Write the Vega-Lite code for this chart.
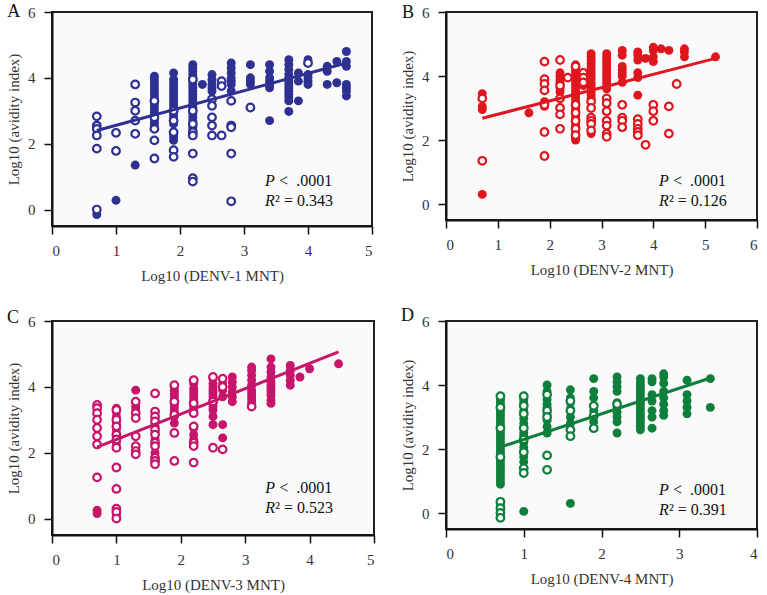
{
  "$schema": "https://vega.github.io/schema/vega-lite/v6.json",
  "padding": {"left": 5, "top": 2, "right": 5, "bottom": 2},
  "background": "#ffffff",
  "columns": 2,
  "spacing": {"row": 22, "column": 23},
  "config": {
    "font": "Liberation Serif",
    "view": {"stroke": "#222222", "strokeWidth": 2, "fill": "#fafafa"},
    "axis": {"grid": false, "labelFont": "Liberation Serif", "labelFontSize": 15, "labelColor": "#333333", "titleFont": "Liberation Serif", "titleFontSize": 15, "titleFontWeight": "normal", "titleColor": "#333333", "domainColor": "#111111", "domainWidth": 2, "tickColor": "#111111", "tickWidth": 1.5, "tickSize": 8, "format": "d"},
    "axisX": {"labelPadding": 9, "titlePadding": 10, "labelAngle": 0},
    "axisY": {"labelPadding": 9, "titlePadding": 6},
    "text": {"font": "Liberation Serif", "color": "#111111", "fontSize": 16, "align": "left", "baseline": "middle"}
  },
  "datasets": {
    "A": [
      {"x":0.7,"y":2.83,"k":"o"},{"x":0.7,"y":2.55,"k":"o"},{"x":0.7,"y":2.45,"k":"o"},{"x":0.7,"y":2.25,"k":"o"},{"x":0.7,"y":1.85,"k":"o"},{"x":0.7,"y":0.0,"k":"o"},{"x":0.7,"y":-0.15,"k":"f"},
      {"x":1.0,"y":2.33,"k":"o"},{"x":1.0,"y":1.78,"k":"o"},{"x":1.0,"y":0.28,"k":"f"},
      {"x":1.3,"y":3.8,"k":"o"},{"x":1.3,"y":3.25,"k":"o"},{"x":1.3,"y":3.0,"k":"o"},{"x":1.3,"y":2.7,"k":"o"},{"x":1.3,"y":2.3,"k":"o"},{"x":1.3,"y":1.35,"k":"f"},
      {"x":1.6,"y":4.05,"k":"f"},{"x":1.6,"y":3.95,"k":"f"},{"x":1.6,"y":3.85,"k":"f"},{"x":1.6,"y":3.75,"k":"f"},{"x":1.6,"y":3.65,"k":"f"},{"x":1.6,"y":3.55,"k":"f"},{"x":1.6,"y":3.45,"k":"f"},{"x":1.6,"y":3.35,"k":"f"},{"x":1.6,"y":3.25,"k":"f"},{"x":1.6,"y":3.15,"k":"f"},{"x":1.6,"y":3.05,"k":"f"},{"x":1.6,"y":2.95,"k":"f"},{"x":1.6,"y":2.85,"k":"f"},{"x":1.6,"y":2.75,"k":"f"},{"x":1.6,"y":2.65,"k":"f"},{"x":1.6,"y":2.55,"k":"f"},
      {"x":1.6,"y":3.3,"k":"o"},{"x":1.6,"y":2.8,"k":"o"},{"x":1.6,"y":2.45,"k":"o"},{"x":1.6,"y":2.1,"k":"o"},{"x":1.6,"y":1.55,"k":"o"},
      {"x":1.9,"y":4.15,"k":"f"},{"x":1.9,"y":3.95,"k":"f"},{"x":1.9,"y":3.85,"k":"f"},{"x":1.9,"y":3.75,"k":"f"},{"x":1.9,"y":3.65,"k":"f"},{"x":1.9,"y":3.55,"k":"f"},{"x":1.9,"y":3.45,"k":"f"},{"x":1.9,"y":3.35,"k":"f"},{"x":1.9,"y":3.25,"k":"f"},{"x":1.9,"y":3.15,"k":"f"},{"x":1.9,"y":3.05,"k":"f"},{"x":1.9,"y":2.95,"k":"f"},{"x":1.9,"y":2.85,"k":"f"},{"x":1.9,"y":2.75,"k":"f"},{"x":1.9,"y":2.6,"k":"f"},{"x":1.9,"y":2.3,"k":"f"},{"x":1.9,"y":2.2,"k":"f"},{"x":1.9,"y":2.1,"k":"f"},
      {"x":1.9,"y":3.0,"k":"o"},{"x":1.9,"y":2.7,"k":"o"},{"x":1.9,"y":2.35,"k":"o"},{"x":1.9,"y":1.8,"k":"o"},{"x":1.9,"y":1.6,"k":"o"},
      {"x":2.2,"y":4.4,"k":"f"},{"x":2.2,"y":4.3,"k":"f"},{"x":2.2,"y":4.2,"k":"f"},{"x":2.2,"y":4.1,"k":"f"},{"x":2.2,"y":4.0,"k":"f"},{"x":2.2,"y":3.9,"k":"f"},{"x":2.2,"y":3.8,"k":"f"},{"x":2.2,"y":3.7,"k":"f"},{"x":2.2,"y":3.6,"k":"f"},{"x":2.2,"y":3.5,"k":"f"},{"x":2.2,"y":3.4,"k":"f"},{"x":2.2,"y":3.3,"k":"f"},{"x":2.2,"y":3.2,"k":"f"},{"x":2.2,"y":3.1,"k":"f"},{"x":2.2,"y":3.0,"k":"f"},{"x":2.2,"y":2.9,"k":"f"},{"x":2.2,"y":2.8,"k":"f"},{"x":2.2,"y":2.7,"k":"f"},{"x":2.2,"y":2.6,"k":"f"},{"x":2.2,"y":2.5,"k":"f"},{"x":2.2,"y":2.4,"k":"f"},
      {"x":2.2,"y":3.95,"k":"o"},{"x":2.2,"y":3.0,"k":"o"},{"x":2.2,"y":2.6,"k":"o"},{"x":2.2,"y":2.35,"k":"o"},{"x":2.2,"y":2.25,"k":"o"},{"x":2.2,"y":1.7,"k":"o"},{"x":2.2,"y":0.95,"k":"o"},{"x":2.2,"y":0.85,"k":"o"},
      {"x":2.35,"y":3.8,"k":"f"},
      {"x":2.5,"y":4.1,"k":"f"},{"x":2.5,"y":3.95,"k":"f"},{"x":2.5,"y":3.8,"k":"f"},{"x":2.5,"y":3.7,"k":"f"},{"x":2.5,"y":3.6,"k":"f"},
      {"x":2.5,"y":3.35,"k":"o"},{"x":2.5,"y":3.15,"k":"o"},{"x":2.5,"y":2.8,"k":"o"},{"x":2.5,"y":2.55,"k":"o"},{"x":2.5,"y":2.25,"k":"o"},
      {"x":2.65,"y":3.9,"k":"o"},{"x":2.65,"y":3.75,"k":"o"},{"x":2.65,"y":2.25,"k":"o"},
      {"x":2.8,"y":4.45,"k":"f"},{"x":2.8,"y":4.3,"k":"f"},{"x":2.8,"y":4.15,"k":"f"},{"x":2.8,"y":4.0,"k":"f"},{"x":2.8,"y":3.9,"k":"f"},{"x":2.8,"y":3.8,"k":"f"},{"x":2.8,"y":3.6,"k":"f"},
      {"x":2.8,"y":3.3,"k":"o"},{"x":2.8,"y":2.55,"k":"o"},{"x":2.8,"y":2.5,"k":"o"},{"x":2.8,"y":1.7,"k":"o"},{"x":2.8,"y":0.25,"k":"o"},
      {"x":3.1,"y":4.4,"k":"f"},{"x":3.1,"y":4.0,"k":"f"},{"x":3.1,"y":3.9,"k":"f"},{"x":3.1,"y":3.8,"k":"f"},{"x":3.1,"y":3.1,"k":"o"},
      {"x":3.4,"y":4.4,"k":"f"},{"x":3.4,"y":4.2,"k":"f"},{"x":3.4,"y":4.0,"k":"f"},{"x":3.4,"y":3.9,"k":"f"},{"x":3.4,"y":3.8,"k":"f"},{"x":3.4,"y":3.7,"k":"f"},{"x":3.4,"y":2.7,"k":"f"},
      {"x":3.7,"y":4.55,"k":"f"},{"x":3.7,"y":4.4,"k":"f"},{"x":3.7,"y":4.25,"k":"f"},{"x":3.7,"y":4.1,"k":"f"},{"x":3.7,"y":4.0,"k":"f"},{"x":3.7,"y":3.9,"k":"f"},{"x":3.7,"y":3.8,"k":"f"},{"x":3.7,"y":3.7,"k":"f"},{"x":3.7,"y":3.6,"k":"f"},{"x":3.7,"y":3.5,"k":"f"},{"x":3.7,"y":3.4,"k":"f"},{"x":3.7,"y":3.3,"k":"f"},{"x":3.7,"y":2.98,"k":"f"},
      {"x":3.85,"y":4.15,"k":"f"},{"x":3.85,"y":3.9,"k":"f"},{"x":3.85,"y":3.3,"k":"f"},
      {"x":4.0,"y":4.55,"k":"f"},{"x":4.0,"y":4.1,"k":"f"},{"x":4.0,"y":4.0,"k":"f"},{"x":4.0,"y":3.9,"k":"f"},{"x":4.0,"y":3.8,"k":"f"},{"x":4.0,"y":4.45,"k":"o"},
      {"x":4.3,"y":4.35,"k":"f"},{"x":4.3,"y":4.2,"k":"f"},{"x":4.3,"y":3.8,"k":"f"},
      {"x":4.45,"y":4.5,"k":"f"},{"x":4.45,"y":3.85,"k":"f"},
      {"x":4.6,"y":4.8,"k":"f"},{"x":4.6,"y":4.5,"k":"f"},{"x":4.6,"y":4.35,"k":"f"},{"x":4.6,"y":3.8,"k":"f"},{"x":4.6,"y":3.7,"k":"f"},{"x":4.6,"y":3.6,"k":"f"},{"x":4.6,"y":3.45,"k":"f"}
    ],
    "B": [
      {"x":0.7,"y":3.45,"k":"f"},{"x":0.7,"y":3.05,"k":"f"},{"x":0.7,"y":2.95,"k":"f"},{"x":0.7,"y":0.3,"k":"f"},{"x":0.7,"y":3.3,"k":"o"},{"x":0.7,"y":1.35,"k":"o"},
      {"x":1.6,"y":2.85,"k":"f"},
      {"x":1.9,"y":4.45,"k":"o"},{"x":1.9,"y":3.9,"k":"o"},{"x":1.9,"y":3.75,"k":"o"},{"x":1.9,"y":3.55,"k":"o"},{"x":1.9,"y":3.1,"k":"o"},{"x":1.9,"y":2.25,"k":"o"},{"x":1.9,"y":1.5,"k":"o"},{"x":1.9,"y":3.2,"k":"f"},{"x":1.9,"y":3.05,"k":"f"},
      {"x":2.2,"y":4.1,"k":"f"},{"x":2.2,"y":4.0,"k":"f"},{"x":2.2,"y":3.9,"k":"f"},{"x":2.2,"y":3.8,"k":"f"},{"x":2.2,"y":3.6,"k":"f"},{"x":2.2,"y":3.5,"k":"f"},
      {"x":2.2,"y":4.5,"k":"o"},{"x":2.2,"y":3.7,"k":"o"},{"x":2.2,"y":3.3,"k":"o"},{"x":2.2,"y":3.0,"k":"o"},{"x":2.2,"y":2.8,"k":"o"},{"x":2.2,"y":2.35,"k":"o"},
      {"x":2.35,"y":3.95,"k":"o"},
      {"x":2.5,"y":4.35,"k":"f"},{"x":2.5,"y":4.25,"k":"f"},{"x":2.5,"y":4.15,"k":"f"},{"x":2.5,"y":4.05,"k":"f"},{"x":2.5,"y":3.95,"k":"f"},{"x":2.5,"y":3.85,"k":"f"},{"x":2.5,"y":3.75,"k":"f"},{"x":2.5,"y":3.65,"k":"f"},{"x":2.5,"y":3.55,"k":"f"},{"x":2.5,"y":3.45,"k":"f"},{"x":2.5,"y":3.35,"k":"f"},{"x":2.5,"y":3.25,"k":"f"},{"x":2.5,"y":3.15,"k":"f"},{"x":2.5,"y":3.05,"k":"f"},{"x":2.5,"y":2.95,"k":"f"},{"x":2.5,"y":2.85,"k":"f"},{"x":2.5,"y":2.75,"k":"f"},{"x":2.5,"y":2.65,"k":"f"},{"x":2.5,"y":2.55,"k":"f"},{"x":2.5,"y":2.45,"k":"f"},{"x":2.5,"y":2.35,"k":"f"},{"x":2.5,"y":2.25,"k":"f"},{"x":2.5,"y":2.15,"k":"f"},{"x":2.5,"y":2.05,"k":"f"},{"x":2.5,"y":2.0,"k":"f"},
      {"x":2.5,"y":4.3,"k":"o"},{"x":2.5,"y":3.1,"k":"o"},{"x":2.5,"y":2.85,"k":"o"},{"x":2.5,"y":2.6,"k":"o"},{"x":2.5,"y":2.35,"k":"o"},{"x":2.5,"y":2.15,"k":"o"},
      {"x":2.65,"y":4.1,"k":"f"},{"x":2.65,"y":3.9,"k":"f"},{"x":2.65,"y":3.7,"k":"f"},{"x":2.65,"y":4.1,"k":"o"},{"x":2.65,"y":3.95,"k":"o"},{"x":2.65,"y":3.8,"k":"o"},
      {"x":2.8,"y":4.7,"k":"f"},{"x":2.8,"y":4.6,"k":"f"},{"x":2.8,"y":4.5,"k":"f"},{"x":2.8,"y":4.4,"k":"f"},{"x":2.8,"y":4.3,"k":"f"},{"x":2.8,"y":4.2,"k":"f"},{"x":2.8,"y":4.1,"k":"f"},{"x":2.8,"y":4.0,"k":"f"},{"x":2.8,"y":3.9,"k":"f"},{"x":2.8,"y":3.8,"k":"f"},{"x":2.8,"y":3.7,"k":"f"},{"x":2.8,"y":3.6,"k":"f"},{"x":2.8,"y":3.5,"k":"f"},{"x":2.8,"y":3.4,"k":"f"},{"x":2.8,"y":3.3,"k":"f"},{"x":2.8,"y":2.2,"k":"f"},
      {"x":2.8,"y":3.2,"k":"o"},{"x":2.8,"y":3.0,"k":"o"},{"x":2.8,"y":2.7,"k":"o"},{"x":2.8,"y":2.6,"k":"o"},{"x":2.8,"y":2.5,"k":"o"},{"x":2.8,"y":2.3,"k":"o"},
      {"x":3.1,"y":4.7,"k":"f"},{"x":3.1,"y":4.6,"k":"f"},{"x":3.1,"y":4.5,"k":"f"},{"x":3.1,"y":4.4,"k":"f"},{"x":3.1,"y":4.3,"k":"f"},{"x":3.1,"y":4.2,"k":"f"},{"x":3.1,"y":4.1,"k":"f"},{"x":3.1,"y":4.0,"k":"f"},{"x":3.1,"y":3.9,"k":"f"},{"x":3.1,"y":3.8,"k":"f"},{"x":3.1,"y":3.7,"k":"f"},{"x":3.1,"y":3.6,"k":"f"},
      {"x":3.1,"y":3.3,"k":"o"},{"x":3.1,"y":3.15,"k":"o"},{"x":3.1,"y":2.9,"k":"o"},{"x":3.1,"y":2.6,"k":"o"},{"x":3.1,"y":2.45,"k":"o"},{"x":3.1,"y":2.2,"k":"o"},{"x":3.1,"y":2.1,"k":"o"},
      {"x":3.4,"y":4.8,"k":"f"},{"x":3.4,"y":4.65,"k":"f"},{"x":3.4,"y":4.3,"k":"f"},{"x":3.4,"y":4.2,"k":"f"},{"x":3.4,"y":4.1,"k":"f"},{"x":3.4,"y":4.0,"k":"f"},{"x":3.4,"y":3.8,"k":"f"},
      {"x":3.4,"y":3.1,"k":"o"},{"x":3.4,"y":2.7,"k":"o"},{"x":3.4,"y":2.6,"k":"o"},{"x":3.4,"y":2.4,"k":"o"},
      {"x":3.7,"y":4.75,"k":"f"},{"x":3.7,"y":4.65,"k":"f"},{"x":3.7,"y":4.5,"k":"f"},{"x":3.7,"y":4.1,"k":"f"},{"x":3.7,"y":3.95,"k":"f"},{"x":3.7,"y":3.4,"k":"f"},
      {"x":3.7,"y":2.65,"k":"o"},{"x":3.7,"y":2.5,"k":"o"},{"x":3.7,"y":2.35,"k":"o"},{"x":3.7,"y":2.25,"k":"o"},{"x":3.7,"y":2.15,"k":"o"},
      {"x":3.85,"y":4.55,"k":"f"},{"x":3.85,"y":1.85,"k":"o"},
      {"x":4.0,"y":4.9,"k":"f"},{"x":4.0,"y":4.8,"k":"f"},{"x":4.0,"y":4.6,"k":"f"},{"x":4.0,"y":4.45,"k":"f"},{"x":4.0,"y":3.1,"k":"o"},{"x":4.0,"y":2.9,"k":"o"},{"x":4.0,"y":2.6,"k":"o"},
      {"x":4.15,"y":4.85,"k":"f"},
      {"x":4.3,"y":4.8,"k":"f"},{"x":4.3,"y":3.05,"k":"o"},{"x":4.3,"y":2.2,"k":"o"},
      {"x":4.45,"y":3.75,"k":"o"},
      {"x":4.6,"y":4.85,"k":"f"},{"x":4.6,"y":4.75,"k":"f"},{"x":4.6,"y":4.6,"k":"f"},
      {"x":5.2,"y":4.6,"k":"f"}
    ],
    "C": [
      {"x":0.7,"y":3.45,"k":"o"},{"x":0.7,"y":3.35,"k":"o"},{"x":0.7,"y":3.2,"k":"o"},{"x":0.7,"y":3.0,"k":"o"},{"x":0.7,"y":2.75,"k":"o"},{"x":0.7,"y":2.5,"k":"o"},{"x":0.7,"y":2.25,"k":"o"},{"x":0.7,"y":1.25,"k":"o"},{"x":0.7,"y":0.25,"k":"f"},{"x":0.7,"y":0.15,"k":"f"},
      {"x":1.0,"y":3.35,"k":"f"},{"x":1.0,"y":3.25,"k":"f"},{"x":1.0,"y":3.1,"k":"f"},{"x":1.0,"y":2.9,"k":"f"},{"x":1.0,"y":2.7,"k":"f"},{"x":1.0,"y":2.5,"k":"f"},{"x":1.0,"y":2.3,"k":"f"},{"x":1.0,"y":0.1,"k":"f"},
      {"x":1.0,"y":3.3,"k":"o"},{"x":1.0,"y":3.0,"k":"o"},{"x":1.0,"y":2.8,"k":"o"},{"x":1.0,"y":2.55,"k":"o"},{"x":1.0,"y":2.4,"k":"o"},{"x":1.0,"y":2.15,"k":"o"},{"x":1.0,"y":1.55,"k":"o"},{"x":1.0,"y":0.9,"k":"o"},{"x":1.0,"y":0.3,"k":"o"},{"x":1.0,"y":0.2,"k":"o"},{"x":1.0,"y":0.0,"k":"o"},
      {"x":1.3,"y":3.9,"k":"f"},{"x":1.3,"y":3.4,"k":"f"},{"x":1.3,"y":3.3,"k":"f"},
      {"x":1.3,"y":3.55,"k":"o"},{"x":1.3,"y":3.2,"k":"o"},{"x":1.3,"y":3.05,"k":"o"},{"x":1.3,"y":2.5,"k":"o"},{"x":1.3,"y":2.2,"k":"o"},{"x":1.3,"y":2.05,"k":"o"},{"x":1.3,"y":1.95,"k":"o"},
      {"x":1.6,"y":3.0,"k":"f"},{"x":1.6,"y":2.8,"k":"f"},{"x":1.6,"y":2.6,"k":"f"},{"x":1.6,"y":2.4,"k":"f"},{"x":1.6,"y":2.0,"k":"f"},
      {"x":1.6,"y":3.8,"k":"o"},{"x":1.6,"y":3.25,"k":"o"},{"x":1.6,"y":3.1,"k":"o"},{"x":1.6,"y":2.95,"k":"o"},{"x":1.6,"y":2.7,"k":"o"},{"x":1.6,"y":2.55,"k":"o"},{"x":1.6,"y":2.3,"k":"o"},{"x":1.6,"y":2.2,"k":"o"},{"x":1.6,"y":1.85,"k":"o"},{"x":1.6,"y":1.75,"k":"o"},{"x":1.6,"y":1.65,"k":"o"},
      {"x":1.9,"y":4.0,"k":"f"},{"x":1.9,"y":3.9,"k":"f"},{"x":1.9,"y":3.8,"k":"f"},{"x":1.9,"y":3.7,"k":"f"},{"x":1.9,"y":3.6,"k":"f"},{"x":1.9,"y":3.5,"k":"f"},{"x":1.9,"y":3.4,"k":"f"},{"x":1.9,"y":3.3,"k":"f"},{"x":1.9,"y":3.2,"k":"f"},{"x":1.9,"y":3.1,"k":"f"},{"x":1.9,"y":2.9,"k":"f"},
      {"x":1.9,"y":4.05,"k":"o"},{"x":1.9,"y":3.55,"k":"o"},{"x":1.9,"y":3.15,"k":"o"},{"x":1.9,"y":2.6,"k":"o"},{"x":1.9,"y":1.75,"k":"o"},
      {"x":2.2,"y":4.2,"k":"f"},{"x":2.2,"y":4.1,"k":"f"},{"x":2.2,"y":3.95,"k":"f"},{"x":2.2,"y":3.85,"k":"f"},{"x":2.2,"y":3.75,"k":"f"},{"x":2.2,"y":3.65,"k":"f"},{"x":2.2,"y":3.55,"k":"f"},{"x":2.2,"y":3.45,"k":"f"},{"x":2.2,"y":3.35,"k":"f"},{"x":2.2,"y":3.25,"k":"f"},{"x":2.2,"y":2.75,"k":"f"},{"x":2.2,"y":2.55,"k":"f"},{"x":2.2,"y":2.4,"k":"f"},{"x":2.2,"y":2.3,"k":"f"},
      {"x":2.2,"y":4.2,"k":"o"},{"x":2.2,"y":3.5,"k":"o"},{"x":2.2,"y":3.2,"k":"o"},{"x":2.2,"y":2.8,"k":"o"},{"x":2.2,"y":2.3,"k":"o"},{"x":2.2,"y":2.2,"k":"o"},{"x":2.2,"y":1.7,"k":"o"},
      {"x":2.5,"y":4.25,"k":"f"},{"x":2.5,"y":4.1,"k":"f"},{"x":2.5,"y":4.0,"k":"f"},{"x":2.5,"y":3.9,"k":"f"},{"x":2.5,"y":3.8,"k":"f"},{"x":2.5,"y":3.7,"k":"f"},{"x":2.5,"y":3.6,"k":"f"},{"x":2.5,"y":3.5,"k":"f"},{"x":2.5,"y":3.4,"k":"f"},{"x":2.5,"y":3.3,"k":"f"},{"x":2.5,"y":3.1,"k":"f"},{"x":2.5,"y":2.85,"k":"f"},
      {"x":2.5,"y":4.3,"k":"o"},{"x":2.5,"y":3.55,"k":"o"},{"x":2.5,"y":2.15,"k":"o"},
      {"x":2.65,"y":4.1,"k":"f"},{"x":2.65,"y":3.9,"k":"f"},{"x":2.65,"y":3.7,"k":"f"},{"x":2.65,"y":2.85,"k":"f"},{"x":2.65,"y":2.45,"k":"f"},
      {"x":2.65,"y":4.25,"k":"o"},{"x":2.65,"y":4.0,"k":"o"},{"x":2.65,"y":2.1,"k":"o"},
      {"x":2.8,"y":4.3,"k":"f"},{"x":2.8,"y":4.15,"k":"f"},{"x":2.8,"y":4.0,"k":"f"},{"x":2.8,"y":3.85,"k":"f"},{"x":2.8,"y":3.7,"k":"f"},{"x":2.8,"y":3.55,"k":"f"},
      {"x":3.1,"y":4.6,"k":"f"},{"x":3.1,"y":4.5,"k":"f"},{"x":3.1,"y":4.35,"k":"f"},{"x":3.1,"y":4.2,"k":"f"},{"x":3.1,"y":4.05,"k":"f"},{"x":3.1,"y":3.9,"k":"f"},{"x":3.1,"y":3.8,"k":"f"},{"x":3.1,"y":3.7,"k":"f"},{"x":3.1,"y":3.6,"k":"f"},{"x":3.1,"y":3.5,"k":"f"},{"x":3.1,"y":3.4,"k":"o"},
      {"x":3.4,"y":4.85,"k":"f"},{"x":3.4,"y":4.6,"k":"f"},{"x":3.4,"y":4.45,"k":"f"},{"x":3.4,"y":4.3,"k":"f"},{"x":3.4,"y":4.15,"k":"f"},{"x":3.4,"y":4.05,"k":"f"},{"x":3.4,"y":3.95,"k":"f"},{"x":3.4,"y":3.85,"k":"f"},{"x":3.4,"y":3.75,"k":"f"},{"x":3.4,"y":3.6,"k":"f"},{"x":3.4,"y":3.5,"k":"f"},
      {"x":3.7,"y":4.65,"k":"f"},{"x":3.7,"y":4.5,"k":"f"},{"x":3.7,"y":4.35,"k":"f"},{"x":3.7,"y":4.2,"k":"f"},{"x":3.7,"y":4.05,"k":"f"},
      {"x":3.85,"y":4.3,"k":"f"},{"x":4.0,"y":4.55,"k":"f"},{"x":4.45,"y":4.7,"k":"f"}
    ],
    "D": [
      {"x":0.7,"y":3.55,"k":"f"},{"x":0.7,"y":3.45,"k":"f"},{"x":0.7,"y":3.35,"k":"f"},{"x":0.7,"y":3.25,"k":"f"},{"x":0.7,"y":3.15,"k":"f"},{"x":0.7,"y":3.05,"k":"f"},{"x":0.7,"y":2.95,"k":"f"},{"x":0.7,"y":2.85,"k":"f"},{"x":0.7,"y":2.75,"k":"f"},{"x":0.7,"y":2.6,"k":"f"},{"x":0.7,"y":2.5,"k":"f"},{"x":0.7,"y":2.4,"k":"f"},{"x":0.7,"y":2.3,"k":"f"},{"x":0.7,"y":2.2,"k":"f"},{"x":0.7,"y":2.1,"k":"f"},{"x":0.7,"y":2.0,"k":"f"},{"x":0.7,"y":1.9,"k":"f"},{"x":0.7,"y":1.8,"k":"f"},{"x":0.7,"y":1.7,"k":"f"},{"x":0.7,"y":1.6,"k":"f"},{"x":0.7,"y":1.5,"k":"f"},{"x":0.7,"y":1.4,"k":"f"},{"x":0.7,"y":1.3,"k":"f"},{"x":0.7,"y":1.2,"k":"f"},{"x":0.7,"y":1.1,"k":"f"},{"x":0.7,"y":1.0,"k":"f"},{"x":0.7,"y":0.9,"k":"f"},{"x":0.7,"y":0.3,"k":"f"},{"x":0.7,"y":0.2,"k":"f"},
      {"x":0.7,"y":3.65,"k":"o"},{"x":0.7,"y":3.3,"k":"o"},{"x":0.7,"y":2.65,"k":"o"},{"x":0.7,"y":1.75,"k":"o"},{"x":0.7,"y":0.35,"k":"o"},{"x":0.7,"y":0.15,"k":"o"},{"x":0.7,"y":0.0,"k":"o"},{"x":0.7,"y":-0.15,"k":"o"},
      {"x":1.0,"y":3.55,"k":"f"},{"x":1.0,"y":3.45,"k":"f"},{"x":1.0,"y":3.2,"k":"f"},{"x":1.0,"y":2.95,"k":"f"},{"x":1.0,"y":2.8,"k":"f"},{"x":1.0,"y":2.5,"k":"f"},{"x":1.0,"y":2.4,"k":"f"},{"x":1.0,"y":2.2,"k":"f"},{"x":1.0,"y":2.05,"k":"f"},{"x":1.0,"y":1.75,"k":"f"},{"x":1.0,"y":1.6,"k":"f"},{"x":1.0,"y":0.05,"k":"f"},
      {"x":1.0,"y":3.65,"k":"o"},{"x":1.0,"y":3.35,"k":"o"},{"x":1.0,"y":3.1,"k":"o"},{"x":1.0,"y":2.65,"k":"o"},{"x":1.0,"y":2.3,"k":"o"},{"x":1.0,"y":1.9,"k":"o"},{"x":1.0,"y":1.4,"k":"o"},{"x":1.0,"y":1.25,"k":"o"},
      {"x":1.3,"y":4.0,"k":"f"},{"x":1.3,"y":3.8,"k":"f"},{"x":1.3,"y":3.55,"k":"f"},{"x":1.3,"y":3.4,"k":"f"},{"x":1.3,"y":3.3,"k":"f"},{"x":1.3,"y":3.1,"k":"f"},{"x":1.3,"y":2.9,"k":"f"},{"x":1.3,"y":2.7,"k":"f"},{"x":1.3,"y":2.5,"k":"f"},
      {"x":1.3,"y":3.7,"k":"o"},{"x":1.3,"y":3.2,"k":"o"},{"x":1.3,"y":3.0,"k":"o"},{"x":1.3,"y":1.8,"k":"o"},{"x":1.3,"y":1.35,"k":"o"},
      {"x":1.6,"y":3.85,"k":"f"},{"x":1.6,"y":3.6,"k":"f"},{"x":1.6,"y":3.45,"k":"f"},{"x":1.6,"y":3.25,"k":"f"},{"x":1.6,"y":3.0,"k":"f"},{"x":1.6,"y":2.8,"k":"f"},{"x":1.6,"y":0.3,"k":"f"},
      {"x":1.6,"y":3.5,"k":"o"},{"x":1.6,"y":3.2,"k":"o"},{"x":1.6,"y":2.6,"k":"o"},{"x":1.6,"y":2.4,"k":"o"},
      {"x":1.9,"y":4.2,"k":"f"},{"x":1.9,"y":3.8,"k":"f"},{"x":1.9,"y":3.6,"k":"f"},{"x":1.9,"y":3.2,"k":"f"},{"x":1.9,"y":3.0,"k":"f"},{"x":1.9,"y":2.85,"k":"f"},
      {"x":1.9,"y":3.35,"k":"o"},{"x":1.9,"y":3.05,"k":"o"},{"x":1.9,"y":2.65,"k":"o"},
      {"x":2.2,"y":4.25,"k":"f"},{"x":2.2,"y":4.1,"k":"f"},{"x":2.2,"y":3.95,"k":"f"},{"x":2.2,"y":3.8,"k":"f"},{"x":2.2,"y":3.45,"k":"f"},{"x":2.2,"y":3.3,"k":"f"},{"x":2.2,"y":3.15,"k":"f"},{"x":2.2,"y":3.0,"k":"f"},{"x":2.2,"y":2.85,"k":"f"},{"x":2.2,"y":2.5,"k":"f"},{"x":2.2,"y":3.4,"k":"o"},
      {"x":2.5,"y":4.2,"k":"f"},{"x":2.5,"y":4.1,"k":"f"},{"x":2.5,"y":4.0,"k":"f"},{"x":2.5,"y":3.9,"k":"f"},{"x":2.5,"y":3.8,"k":"f"},{"x":2.5,"y":3.7,"k":"f"},{"x":2.5,"y":3.6,"k":"f"},{"x":2.5,"y":3.5,"k":"f"},{"x":2.5,"y":3.4,"k":"f"},{"x":2.5,"y":3.3,"k":"f"},{"x":2.5,"y":3.2,"k":"f"},{"x":2.5,"y":3.1,"k":"f"},{"x":2.5,"y":3.0,"k":"f"},{"x":2.5,"y":2.9,"k":"f"},{"x":2.5,"y":2.8,"k":"f"},{"x":2.5,"y":2.7,"k":"f"},{"x":2.5,"y":2.6,"k":"f"},
      {"x":2.65,"y":4.2,"k":"f"},{"x":2.65,"y":4.1,"k":"f"},{"x":2.65,"y":3.7,"k":"f"},{"x":2.65,"y":3.5,"k":"f"},{"x":2.65,"y":3.2,"k":"f"},{"x":2.65,"y":3.0,"k":"f"},{"x":2.65,"y":2.65,"k":"f"},
      {"x":2.8,"y":4.35,"k":"f"},{"x":2.8,"y":4.25,"k":"f"},{"x":2.8,"y":4.05,"k":"f"},{"x":2.8,"y":3.8,"k":"f"},{"x":2.8,"y":3.6,"k":"f"},{"x":2.8,"y":3.4,"k":"f"},{"x":2.8,"y":3.2,"k":"f"},{"x":2.8,"y":3.05,"k":"f"},
      {"x":3.1,"y":4.15,"k":"f"},{"x":3.1,"y":3.7,"k":"f"},{"x":3.1,"y":3.5,"k":"f"},{"x":3.1,"y":3.3,"k":"f"},{"x":3.1,"y":3.1,"k":"f"},
      {"x":3.4,"y":4.2,"k":"f"},{"x":3.4,"y":3.3,"k":"f"}
    ],
    "LA": [{"x":0.7,"y":2.4},{"x":4.6,"y":4.45}],
    "LB": [{"x":0.7,"y":2.68},{"x":5.2,"y":4.55}],
    "LC": [{"x":0.7,"y":2.17},{"x":4.45,"y":5.06}],
    "LD": [{"x":0.7,"y":2.06},{"x":3.4,"y":4.22}],
    "one": [{"n": 1}]
  },
  "concat": [
    {
      "width": 320, "height": 214,
      "layer": [
        {"data": {"name": "A"}, "transform": [{"filter": "datum.k == 'f'"}],
         "mark": {"type": "point", "shape": "circle", "filled": true, "size": 80, "color": "#2e3192", "opacity": 1},
         "encoding": {
           "x": {"field": "x", "type": "quantitative", "scale": {"domain": [0, 5]}, "axis": {"values": [0,1,2,3,4,5], "title": "Log10 (DENV-1 MNT)"}},
           "y": {"field": "y", "type": "quantitative", "scale": {"domain": [-0.5, 6]}, "axis": {"values": [0,2,4,6], "title": "Log10 (avidity index)"}}}},
        {"data": {"name": "A"}, "transform": [{"filter": "datum.k == 'o'"}],
         "mark": {"type": "point", "shape": "circle", "filled": false, "fill": "#ffffff", "fillOpacity": 1, "stroke": "#2e3192", "strokeWidth": 2.2, "size": 58, "opacity": 1},
         "encoding": {"x": {"field": "x", "type": "quantitative"}, "y": {"field": "y", "type": "quantitative"}}},
        {"data": {"name": "LA"}, "mark": {"type": "line", "color": "#2e3192", "strokeWidth": 3},
         "encoding": {"x": {"field": "x", "type": "quantitative"}, "y": {"field": "y", "type": "quantitative"}}},
        {"data": {"name": "one"}, "mark": {"type": "text", "text": "A", "fontSize": 18},
         "encoding": {"x": {"datum": -0.7, "type": "quantitative"}, "y": {"datum": 6.0, "type": "quantitative"}}},
        {"data": {"name": "one"}, "mark": {"type": "text", "text": "P", "fontStyle": "italic"},
         "encoding": {"x": {"datum": 3.33, "type": "quantitative"}, "y": {"datum": 0.88, "type": "quantitative"}}},
        {"data": {"name": "one"}, "mark": {"type": "text", "text": "<\u00a0\u00a0.0001", "dx": 14},
         "encoding": {"x": {"datum": 3.33, "type": "quantitative"}, "y": {"datum": 0.88, "type": "quantitative"}}},
        {"data": {"name": "one"}, "mark": {"type": "text", "text": "R", "fontStyle": "italic"},
         "encoding": {"x": {"datum": 3.33, "type": "quantitative"}, "y": {"datum": 0.27, "type": "quantitative"}}},
        {"data": {"name": "one"}, "mark": {"type": "text", "text": "² = 0.343", "dx": 10},
         "encoding": {"x": {"datum": 3.33, "type": "quantitative"}, "y": {"datum": 0.27, "type": "quantitative"}}}
      ]
    },
    {
      "width": 311, "height": 208,
      "layer": [
        {"data": {"name": "B"}, "transform": [{"filter": "datum.k == 'f'"}],
         "mark": {"type": "point", "shape": "circle", "filled": true, "size": 80, "color": "#e0161f", "opacity": 1},
         "encoding": {
           "x": {"field": "x", "type": "quantitative", "scale": {"domain": [0, 6]}, "axis": {"values": [0,1,2,3,4,5,6], "title": "Log10 (DENV-2 MNT)"}},
           "y": {"field": "y", "type": "quantitative", "scale": {"domain": [-0.5, 6]}, "axis": {"values": [0,2,4,6], "title": "Log10 (avidity index)"}}}},
        {"data": {"name": "B"}, "transform": [{"filter": "datum.k == 'o'"}],
         "mark": {"type": "point", "shape": "circle", "filled": false, "fill": "#ffffff", "fillOpacity": 1, "stroke": "#e0161f", "strokeWidth": 2.2, "size": 58, "opacity": 1},
         "encoding": {"x": {"field": "x", "type": "quantitative"}, "y": {"field": "y", "type": "quantitative"}}},
        {"data": {"name": "LB"}, "mark": {"type": "line", "color": "#e0161f", "strokeWidth": 3},
         "encoding": {"x": {"field": "x", "type": "quantitative"}, "y": {"field": "y", "type": "quantitative"}}},
        {"data": {"name": "one"}, "mark": {"type": "text", "text": "B", "fontSize": 18},
         "encoding": {"x": {"datum": -0.85, "type": "quantitative"}, "y": {"datum": 5.97, "type": "quantitative"}}},
        {"data": {"name": "one"}, "mark": {"type": "text", "text": "P", "fontStyle": "italic"},
         "encoding": {"x": {"datum": 4.11, "type": "quantitative"}, "y": {"datum": 0.72, "type": "quantitative"}}},
        {"data": {"name": "one"}, "mark": {"type": "text", "text": "<\u00a0\u00a0.0001", "dx": 14},
         "encoding": {"x": {"datum": 4.11, "type": "quantitative"}, "y": {"datum": 0.72, "type": "quantitative"}}},
        {"data": {"name": "one"}, "mark": {"type": "text", "text": "R", "fontStyle": "italic"},
         "encoding": {"x": {"datum": 4.11, "type": "quantitative"}, "y": {"datum": 0.1, "type": "quantitative"}}},
        {"data": {"name": "one"}, "mark": {"type": "text", "text": "² = 0.126", "dx": 10},
         "encoding": {"x": {"datum": 4.11, "type": "quantitative"}, "y": {"datum": 0.1, "type": "quantitative"}}}
      ]
    },
    {
      "width": 322, "height": 214,
      "layer": [
        {"data": {"name": "C"}, "transform": [{"filter": "datum.k == 'f'"}],
         "mark": {"type": "point", "shape": "circle", "filled": true, "size": 80, "color": "#c6156a", "opacity": 1},
         "encoding": {
           "x": {"field": "x", "type": "quantitative", "scale": {"domain": [0, 5]}, "axis": {"values": [0,1,2,3,4,5], "title": "Log10 (DENV-3 MNT)"}},
           "y": {"field": "y", "type": "quantitative", "scale": {"domain": [-0.5, 6]}, "axis": {"values": [0,2,4,6], "title": "Log10 (avidity index)"}}}},
        {"data": {"name": "C"}, "transform": [{"filter": "datum.k == 'o'"}],
         "mark": {"type": "point", "shape": "circle", "filled": false, "fill": "#ffffff", "fillOpacity": 1, "stroke": "#c6156a", "strokeWidth": 2.2, "size": 58, "opacity": 1},
         "encoding": {"x": {"field": "x", "type": "quantitative"}, "y": {"field": "y", "type": "quantitative"}}},
        {"data": {"name": "LC"}, "mark": {"type": "line", "color": "#c6156a", "strokeWidth": 3},
         "encoding": {"x": {"field": "x", "type": "quantitative"}, "y": {"field": "y", "type": "quantitative"}}},
        {"data": {"name": "one"}, "mark": {"type": "text", "text": "C", "fontSize": 18},
         "encoding": {"x": {"datum": -0.7, "type": "quantitative"}, "y": {"datum": 6.1, "type": "quantitative"}}},
        {"data": {"name": "one"}, "mark": {"type": "text", "text": "P", "fontStyle": "italic"},
         "encoding": {"x": {"datum": 3.31, "type": "quantitative"}, "y": {"datum": 0.93, "type": "quantitative"}}},
        {"data": {"name": "one"}, "mark": {"type": "text", "text": "<\u00a0\u00a0.0001", "dx": 14},
         "encoding": {"x": {"datum": 3.31, "type": "quantitative"}, "y": {"datum": 0.93, "type": "quantitative"}}},
        {"data": {"name": "one"}, "mark": {"type": "text", "text": "R", "fontStyle": "italic"},
         "encoding": {"x": {"datum": 3.31, "type": "quantitative"}, "y": {"datum": 0.33, "type": "quantitative"}}},
        {"data": {"name": "one"}, "mark": {"type": "text", "text": "² = 0.523", "dx": 10},
         "encoding": {"x": {"datum": 3.31, "type": "quantitative"}, "y": {"datum": 0.33, "type": "quantitative"}}}
      ]
    },
    {
      "width": 311, "height": 208,
      "layer": [
        {"data": {"name": "D"}, "transform": [{"filter": "datum.k == 'f'"}],
         "mark": {"type": "point", "shape": "circle", "filled": true, "size": 80, "color": "#0f7f3c", "opacity": 1},
         "encoding": {
           "x": {"field": "x", "type": "quantitative", "scale": {"domain": [0, 4]}, "axis": {"values": [0,1,2,3,4], "title": "Log10 (DENV-4 MNT)"}},
           "y": {"field": "y", "type": "quantitative", "scale": {"domain": [-0.5, 6]}, "axis": {"values": [0,2,4,6], "title": "Log10 (avidity index)"}}}},
        {"data": {"name": "D"}, "transform": [{"filter": "datum.k == 'o'"}],
         "mark": {"type": "point", "shape": "circle", "filled": false, "fill": "#ffffff", "fillOpacity": 1, "stroke": "#0f7f3c", "strokeWidth": 2.2, "size": 58, "opacity": 1},
         "encoding": {"x": {"field": "x", "type": "quantitative"}, "y": {"field": "y", "type": "quantitative"}}},
        {"data": {"name": "LD"}, "mark": {"type": "line", "color": "#0f7f3c", "strokeWidth": 3},
         "encoding": {"x": {"field": "x", "type": "quantitative"}, "y": {"field": "y", "type": "quantitative"}}},
        {"data": {"name": "one"}, "mark": {"type": "text", "text": "D", "fontSize": 18},
         "encoding": {"x": {"datum": -0.58, "type": "quantitative"}, "y": {"datum": 6.15, "type": "quantitative"}}},
        {"data": {"name": "one"}, "mark": {"type": "text", "text": "P", "fontStyle": "italic"},
         "encoding": {"x": {"datum": 2.74, "type": "quantitative"}, "y": {"datum": 0.71, "type": "quantitative"}}},
        {"data": {"name": "one"}, "mark": {"type": "text", "text": "<\u00a0\u00a0.0001", "dx": 14},
         "encoding": {"x": {"datum": 2.74, "type": "quantitative"}, "y": {"datum": 0.71, "type": "quantitative"}}},
        {"data": {"name": "one"}, "mark": {"type": "text", "text": "R", "fontStyle": "italic"},
         "encoding": {"x": {"datum": 2.74, "type": "quantitative"}, "y": {"datum": 0.09, "type": "quantitative"}}},
        {"data": {"name": "one"}, "mark": {"type": "text", "text": "² = 0.391", "dx": 10},
         "encoding": {"x": {"datum": 2.74, "type": "quantitative"}, "y": {"datum": 0.09, "type": "quantitative"}}}
      ]
    }
  ]
}
